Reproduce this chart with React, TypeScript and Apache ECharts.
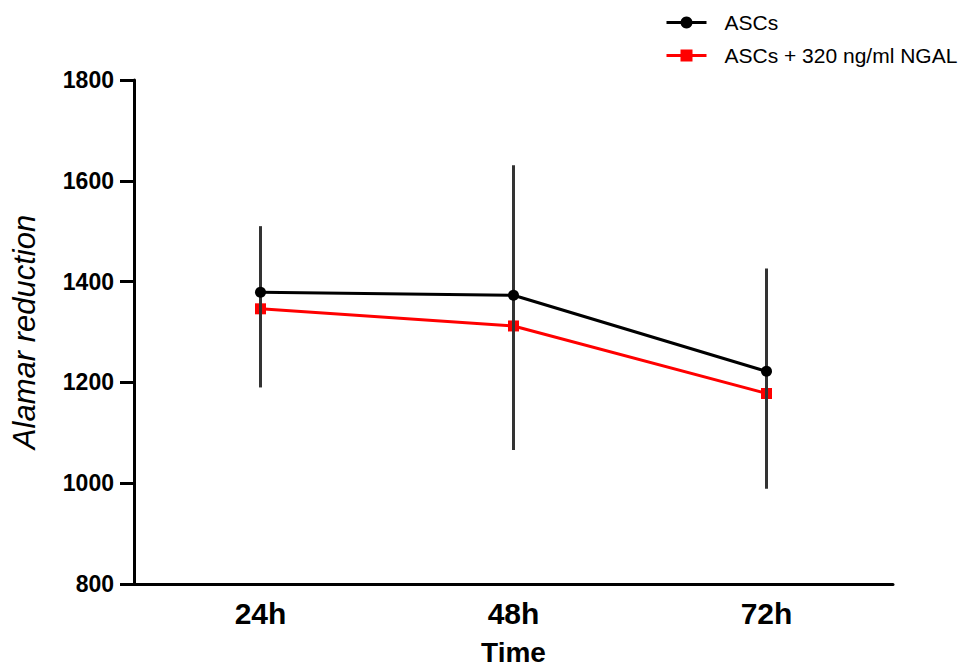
import React, { useEffect, useRef } from "react";
import * as echarts from "echarts";

const categories = ["24h", "48h", "72h"];
const ascs = [1379, 1373, 1222];
const ascsNgal = [1346, 1312, 1178];
const errLow = [1190, 1066, 989];
const errHigh = [1510, 1631, 1426];
const yTicks = { min: 800, max: 1800, interval: 200 };

export default function App() {
  const ref = useRef<HTMLDivElement>(null);
  useEffect(() => {
    if (!ref.current) return;
    const chart = echarts.init(ref.current, null, { renderer: "svg" });
    const font = "Arial, 'Liberation Sans', sans-serif";
    chart.setOption({
      animation: false,
      backgroundColor: "#fff",
      textStyle: { fontFamily: font },
      grid: { left: 134, right: 72, top: 80, bottom: 82, containLabel: false, outerBoundsMode: "none" },
      legend: {
        orient: "vertical",
        left: 660,
        top: 7,
        itemWidth: 40,
        itemHeight: 15,
        itemGap: 12,
        lineStyle: { width: 3 },
        textStyle: { fontSize: 21, color: "#000", fontFamily: font, padding: [0, 0, 0, 13] },
        data: ["ASCs", "ASCs + 320 ng/ml NGAL"],
      },
      xAxis: {
        type: "category",
        data: categories,
        boundaryGap: true,
        name: "Time",
        nameLocation: "middle",
        nameGap: 54,
        nameTextStyle: { fontSize: 28, lineHeight: 28, fontWeight: "bold", color: "#000", fontFamily: font },
        axisLine: { lineStyle: { color: "#000", width: 3 } },
        axisTick: { alignWithLabel: true, length: 9, lineStyle: { color: "#000", width: 3 } },
        axisLabel: { fontSize: 30, fontWeight: "bold", color: "#000", margin: 14, fontFamily: font },
        splitLine: { show: false },
      },
      yAxis: {
        type: "value",
        min: yTicks.min,
        max: yTicks.max,
        interval: yTicks.interval,
        name: "Alamar reduction",
        nameLocation: "middle",
        nameGap: 94,
        nameRotate: 90,
        nameTextStyle: { fontSize: 31, fontStyle: "italic", color: "#000", fontFamily: font },
        axisLine: { show: true, lineStyle: { color: "#000", width: 3 } },
        axisTick: { show: true, length: 14, lineStyle: { color: "#000", width: 3 } },
        axisLabel: {
          fontSize: 23,
          fontWeight: "bold",
          color: "#000",
          margin: 20,
          fontFamily: font,
          formatter: (v: number) => String(v),
        },
        splitLine: { show: false },
      },
      series: [
        {
          name: "ASCs + 320 ng/ml NGAL",
          type: "line",
          data: ascsNgal,
          symbol: "rect",
          symbolSize: 11,
          z: 2,
          itemStyle: { color: "#ff0000" },
          lineStyle: { color: "#ff0000", width: 3 },
        },
        {
          name: "errors",
          type: "custom",
          z: 3,
          data: categories.map((_, i) => [i, errLow[i], errHigh[i]]),
          renderItem: (params: any, api: any) => {
            const i = api.value(0);
            const lo = api.coord([i, api.value(1)]);
            const hi = api.coord([i, api.value(2)]);
            return {
              type: "line",
              shape: { x1: lo[0], y1: lo[1], x2: hi[0], y2: hi[1] },
              style: { stroke: "#333333", lineWidth: 3 },
            };
          },
          encode: { x: 0, y: [1, 2] },
        },
        {
          name: "ASCs",
          type: "line",
          data: ascs,
          symbol: "circle",
          symbolSize: 11,
          z: 4,
          itemStyle: { color: "#000" },
          lineStyle: { color: "#000", width: 3 },
        },
      ],
    });
    return () => chart.dispose();
  }, []);
  return <div ref={ref} style={{ width: 965, height: 666, position: "absolute", left: 0, top: 0 }} />;
}
